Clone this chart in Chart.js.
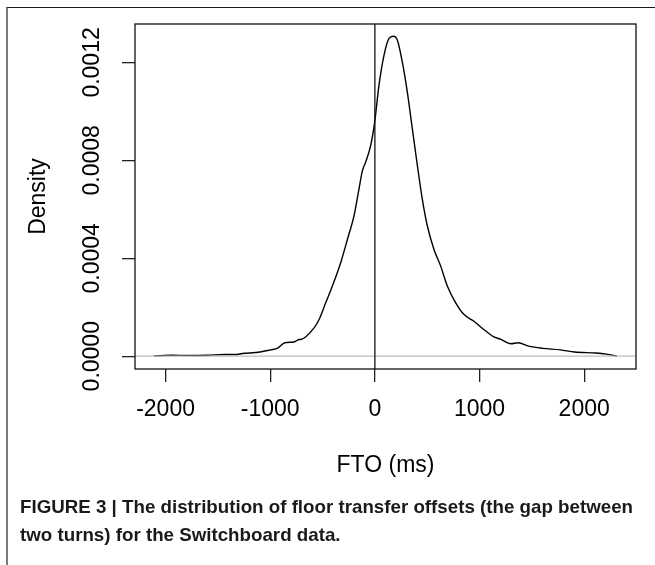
<!DOCTYPE html>
<html>
<head>
<meta charset="utf-8">
<script src="https://cdn.jsdelivr.net/npm/chart.js@4.4.1/dist/chart.umd.min.js"></script>
<style>
  body { margin: 0; background: #fff; }
  #wrap { position: relative; width: 655px; height: 565px; overflow: hidden; }
  #frame { position: absolute; left: 6px; top: 7px; width: 700px; height: 600px;
           border-top: 1.5px solid #1a1a1a; border-left: 2px solid #7a7a7a; }
  #myChart { position: absolute; left: 0; top: 0; }
  .cap { position: absolute; left: 20px; white-space: nowrap; transform-origin: 0 0;
         font: bold 19px "Liberation Sans", Arial, sans-serif; color: #1a1a1a; }
</style>
</head>
<body>
<div id="wrap">
  <div id="frame"></div>
  <canvas id="myChart" width="655" height="565"></canvas>
  <div class="cap" id="cap1" style="top:496px">FIGURE 3 | The distribution of floor transfer offsets (the gap between</div>
  <div class="cap" id="cap2" style="top:524px">two turns) for the Switchboard data.</div>
</div>
<script>
// floor transfer offset (ms) and estimated density
var fto = [-2110, -1941, -1772, -1603, -1434, -1333, -1266, -1097, -995, -928, -861, -776, -725,
    -708, -581, -533, -469, -406, -326, -262, -199, -152, -119, -88, -40, -2, 39, 87, 135, 177,
    215, 262, 310, 358, 406, 453, 501, 564, 628, 692, 771, 850, 946, 1041, 1132, 1199, 1301,
    1369, 1470, 1604, 1773, 1908, 2111, 2212, 2313];
var density = [0.000001, 0.000004, 0.000003, 0.000004, 0.000007, 0.000007, 0.000011, 0.000017,
    0.000026, 0.000033, 0.000055, 0.000058, 0.000068,
    0.0000684, 0.000116, 0.000150, 0.000219, 0.000287, 0.000383, 0.000478, 0.000574, 0.000683,
    0.000758, 0.000793, 0.000861, 0.000956, 0.001106, 0.001229, 0.001298, 0.001307,
    0.001291, 0.001202, 0.001079, 0.000929, 0.000779, 0.000642, 0.000533, 0.000437, 0.000369,
    0.000287, 0.000219, 0.000171, 0.000143, 0.000109, 0.000080, 0.000070, 0.000051,
    0.000055, 0.000041, 0.000032, 0.000026, 0.000017, 0.000013, 0.0000086, 0.000001];

var xTicks = [-2000, -1000, 0, 1000, 2000];
var xTickLabels = ["-2000", "-1000", "0", "1000", "2000"];
var yTicks = [0, 0.0004, 0.0008, 0.0012];
var yTickLabels = ["0.0000", "0.0004", "0.0008", "0.0012"];

var xMin = -2292, xMax = 2495;
var yMin = -0.0000522, yMax = 0.001357;

var points = fto.map(function (x, i) { return { x: x, y: density[i] }; });

// box round the plot, grey zero line and the vertical line at 0 ms
var framePlugin = {
    id: "rframe",
    afterDatasetsDraw: function (chart) {
        var a = chart.chartArea, ctx = chart.ctx;
        var xs = chart.scales.x, ys = chart.scales.y;
        ctx.save();
        ctx.lineWidth = 1.3;
        ctx.strokeStyle = "#bebebe";
        var y0 = ys.getPixelForValue(0);
        ctx.beginPath(); ctx.moveTo(a.left, y0); ctx.lineTo(a.right, y0); ctx.stroke();
        ctx.strokeStyle = "#111";
        var x0 = xs.getPixelForValue(0);
        ctx.beginPath(); ctx.moveTo(x0, a.top); ctx.lineTo(x0, a.bottom); ctx.stroke();
        ctx.strokeRect(a.left, a.top, a.right - a.left, a.bottom - a.top);
        ctx.restore();
    }
};

var font = "'Liberation Sans', Arial, sans-serif";

var ctx = document.getElementById("myChart").getContext("2d");
var myChart = new Chart(ctx, {
    type: "line",
    data: {
        datasets: [{
            data: points,
            borderColor: "#000",
            borderWidth: 1.4,
            pointRadius: 0,
            fill: false,
            cubicInterpolationMode: "monotone"
        }]
    },
    options: {
        responsive: false,
        animation: false,
        devicePixelRatio: 1,
        layout: { padding: { left: 0, top: 24, right: 19, bottom: 86 } },
        plugins: { legend: { display: false }, tooltip: { enabled: false } },
        scales: {
            x: {
                type: "linear",
                min: xMin,
                max: xMax,
                afterBuildTicks: function (scale) {
                    scale.ticks = xTicks.map(function (v) { return { value: v }; });
                },
                afterFit: function (scale) { scale.height = 110; },
                border: { display: false },
                grid: { drawOnChartArea: false, drawTicks: true, tickLength: 13, color: "#222", lineWidth: 1.3 },
                ticks: {
                    color: "#000",
                    font: { family: font, size: 23 },
                    padding: 14,
                    maxRotation: 0,
                    autoSkip: false,
                    callback: function (value, index) { return xTickLabels[index]; }
                },
                title: {
                    display: true,
                    text: "FTO (ms)",
                    color: "#000",
                    font: { family: font, size: 23 },
                    padding: { top: 0, bottom: 0 }
                }
            },
            y: {
                type: "linear",
                min: yMin,
                max: yMax,
                afterBuildTicks: function (scale) {
                    scale.ticks = yTicks.map(function (v) { return { value: v }; });
                },
                afterFit: function (scale) { scale.width = 135; },
                border: { display: false },
                grid: { drawOnChartArea: false, drawTicks: true, tickLength: 13, color: "#222", lineWidth: 1.3 },
                ticks: {
                    color: "#000",
                    font: { family: font, size: 23 },
                    minRotation: 90,
                    maxRotation: 90,
                    crossAlign: "center",
                    padding: -6,
                    autoSkip: false,
                    callback: function (value, index) { return yTickLabels[index]; }
                },
                title: {
                    display: true,
                    text: "Density",
                    color: "#000",
                    font: { family: font, size: 23 },
                    padding: { top: 25, bottom: 0 }
                }
            }
        }
    },
    plugins: [framePlugin]
});

// squeeze the caption lines to the printed width
var cap1 = document.getElementById("cap1"), cap2 = document.getElementById("cap2");
var k = 613 / cap1.getBoundingClientRect().width;
cap1.style.transform = "scaleX(" + k + ")";
cap2.style.transform = "scaleX(" + k + ")";
</script>
</body>
</html>
